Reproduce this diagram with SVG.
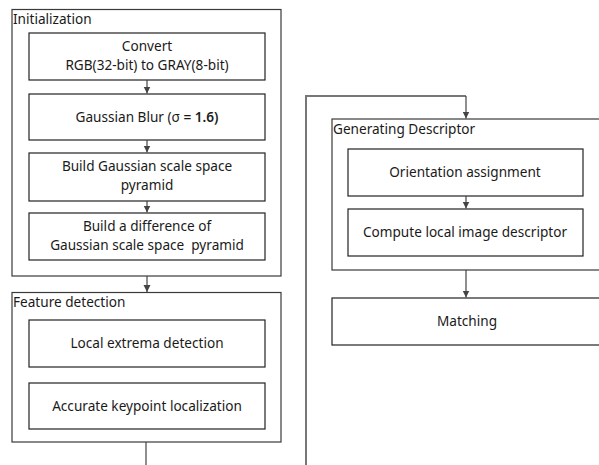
<svg xmlns="http://www.w3.org/2000/svg" width="599" height="465" viewBox="0 0 599 465">
<style>
.grp{fill:#fff;stroke:#3a3a3a;stroke-width:1.2}
.box{fill:#fff;stroke:#222;stroke-width:1.2}
.lbl{font-family:"Noto Sans","Open Sans",sans-serif;font-size:13.6px;fill:#1a1a1a}
.t{font-family:"Noto Sans","Open Sans",sans-serif;font-size:13.6px;fill:#1a1a1a;text-anchor:middle}
.c{fill:none;stroke:#444;stroke-width:1.2}
</style>
<defs>
<marker id="ah" markerWidth="8" markerHeight="8" refX="7" refY="4" orient="auto" markerUnits="userSpaceOnUse">
<path d="M0,0.5 L7,4 L0,7.5 Z" fill="#444"/>
</marker>
</defs>
<g id="init">
<rect class="grp" x="12" y="9.5" width="269" height="266.5"/>
<text class="lbl" x="13" y="24">Initialization</text>
</g>
<g id="convert">
<rect class="box" x="29" y="33" width="236" height="47"/>
<text class="t" x="147" y="51">Convert</text>
<text class="t" x="147" y="70">RGB(32-bit) to GRAY(8-bit)</text>
</g>
<g id="blur">
<rect class="box" x="29" y="94" width="236" height="46"/>
<text class="t" x="147" y="122">Gaussian Blur (σ <tspan font-weight="600">= 1.6)</tspan></text>
</g>
<g id="gss">
<rect class="box" x="29" y="153" width="236" height="48"/>
<text class="t" x="147" y="171">Build Gaussian scale space</text>
<text class="t" x="147" y="190">pyramid</text>
</g>
<g id="dog">
<rect class="box" x="29" y="213" width="236" height="47"/>
<text class="t" x="147" y="231">Build a difference of</text>
<text class="t" x="147" y="250" style="white-space:pre">Gaussian scale space  pyramid</text>
</g>
<g id="feat">
<rect class="grp" x="12" y="292.5" width="269" height="149.5"/>
<text class="lbl" x="13" y="307">Feature detection</text>
</g>
<g id="extrema">
<rect class="box" x="29" y="320" width="236" height="47"/>
<text class="t" x="147" y="348">Local extrema detection</text>
</g>
<g id="keypoint">
<rect class="box" x="29" y="383" width="236" height="46"/>
<text class="t" x="147" y="411">Accurate keypoint localization</text>
</g>
<g id="desc">
<rect class="grp" x="332" y="119" width="280" height="151"/>
<text class="lbl" x="333" y="134">Generating Descriptor</text>
</g>
<g id="orient">
<rect class="box" x="348" y="149" width="235" height="47"/>
<text class="t" x="465" y="177">Orientation assignment</text>
</g>
<g id="compute">
<rect class="box" x="348" y="209" width="235" height="47"/>
<text class="t" x="465" y="237">Compute local image descriptor</text>
</g>
<g id="matching">
<rect class="box" x="332" y="298" width="280" height="47"/>
<text class="t" x="467" y="326">Matching</text>
</g>
<g id="connectors">
<line class="c" x1="147" y1="80" x2="147" y2="93.5" marker-end="url(#ah)"/>
<line class="c" x1="147" y1="140" x2="147" y2="152.5" marker-end="url(#ah)"/>
<line class="c" x1="147" y1="201" x2="147" y2="212.5" marker-end="url(#ah)"/>
<line class="c" x1="147" y1="276" x2="147" y2="292" marker-end="url(#ah)"/>
<line class="c" x1="146" y1="442" x2="146" y2="465"/>
<polyline fill="none" stroke="#777" stroke-width="2" points="306,465 306,96 466,96"/>
<line class="c" x1="466" y1="96" x2="466" y2="118.5" marker-end="url(#ah)"/>
<line class="c" x1="466" y1="196" x2="466" y2="208.5" marker-end="url(#ah)"/>
<line class="c" x1="466" y1="270" x2="466" y2="297.5" marker-end="url(#ah)"/>
</g>
</svg>
